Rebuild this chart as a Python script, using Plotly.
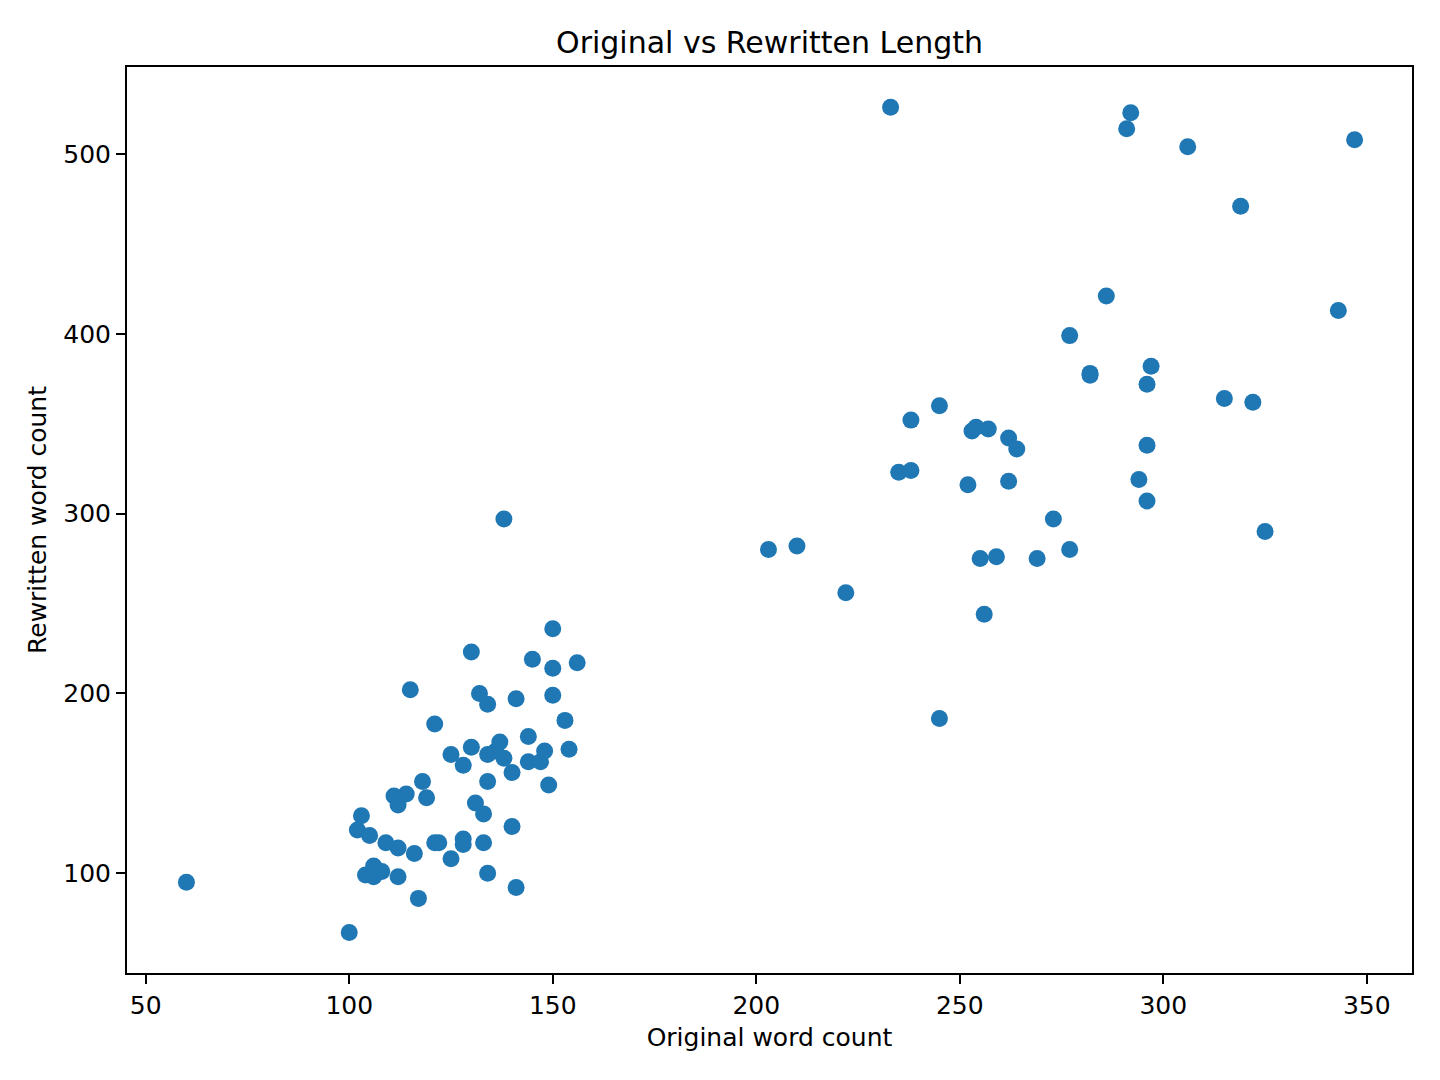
import plotly.graph_objects as go

original_words = [
    60, 100, 103, 102, 105, 104, 106, 106, 108, 109, 112, 112, 111, 112, 114, 115,
    116, 117, 118, 119, 121, 121, 122, 125, 125, 128, 128, 128, 130, 130, 131, 132,
    133, 133, 134, 134, 134, 134, 136, 137, 138, 138, 140, 140, 141, 141, 144, 144,
    145, 147, 148, 149, 150, 150, 150, 153, 154, 156,
    210, 203, 222, 233, 235, 238, 238, 245, 245, 252, 253, 254, 257, 255, 256, 259,
    262, 264, 262, 269, 273, 277, 277, 282, 282, 286, 291, 292, 294, 296, 297, 296,
    296, 306, 315, 319, 322, 325, 343, 347,
]
rewritten_words = [
    95, 67, 132, 124, 121, 99, 104, 98, 101, 117, 114, 98, 143, 138, 144, 202,
    111, 86, 151, 142, 183, 117, 117, 166, 108, 160, 119, 116, 223, 170, 139, 200,
    133, 117, 194, 166, 151, 100, 168, 173, 297, 164, 156, 126, 197, 92, 176, 162,
    219, 162, 168, 149, 236, 214, 199, 185, 169, 217,
    282, 280, 256, 526, 323, 352, 324, 360, 186, 316, 346, 348, 347, 275, 244, 276,
    342, 336, 318, 275, 297, 399, 280, 378, 377, 421, 514, 523, 319, 372, 382, 338,
    307, 504, 364, 471, 362, 290, 413, 508,
]
x_ticks = [50, 100, 150, 200, 250, 300, 350]
y_ticks = [100, 200, 300, 400, 500]

fig = go.Figure(go.Scatter(
    x=original_words, y=rewritten_words, mode="markers",
    marker=dict(color="#1f77b4", size=17, line=dict(width=0)),
    showlegend=False,
))

axis_common = dict(
    showgrid=False, zeroline=False, showline=True, mirror=True,
    linecolor="black", linewidth=2, ticks="outside", ticklen=9, tickwidth=2,
    tickcolor="black", tickfont=dict(size=25, color="black"),
)

fig.update_layout(
    width=1440, height=1080,
    margin=dict(l=127, r=28, t=67, b=107),
    paper_bgcolor="white", plot_bgcolor="white",
    font=dict(family="DejaVu Sans", color="black"),
    title=dict(text="Original vs Rewritten Length", x=0.5344, xanchor="center",
               y=1 - 42 / 1080, yanchor="middle", font=dict(size=30)),
    xaxis=dict(range=[45.4, 361.1], tickvals=x_ticks,
               title=dict(text="Original word count", font=dict(size=25), standoff=9),
               **axis_common),
    yaxis=dict(range=[44.5, 548.4], tickvals=y_ticks,
               title=dict(text="Rewritten word count", font=dict(size=25), standoff=10),
               **axis_common),
)

fig.write_html("out.html")
